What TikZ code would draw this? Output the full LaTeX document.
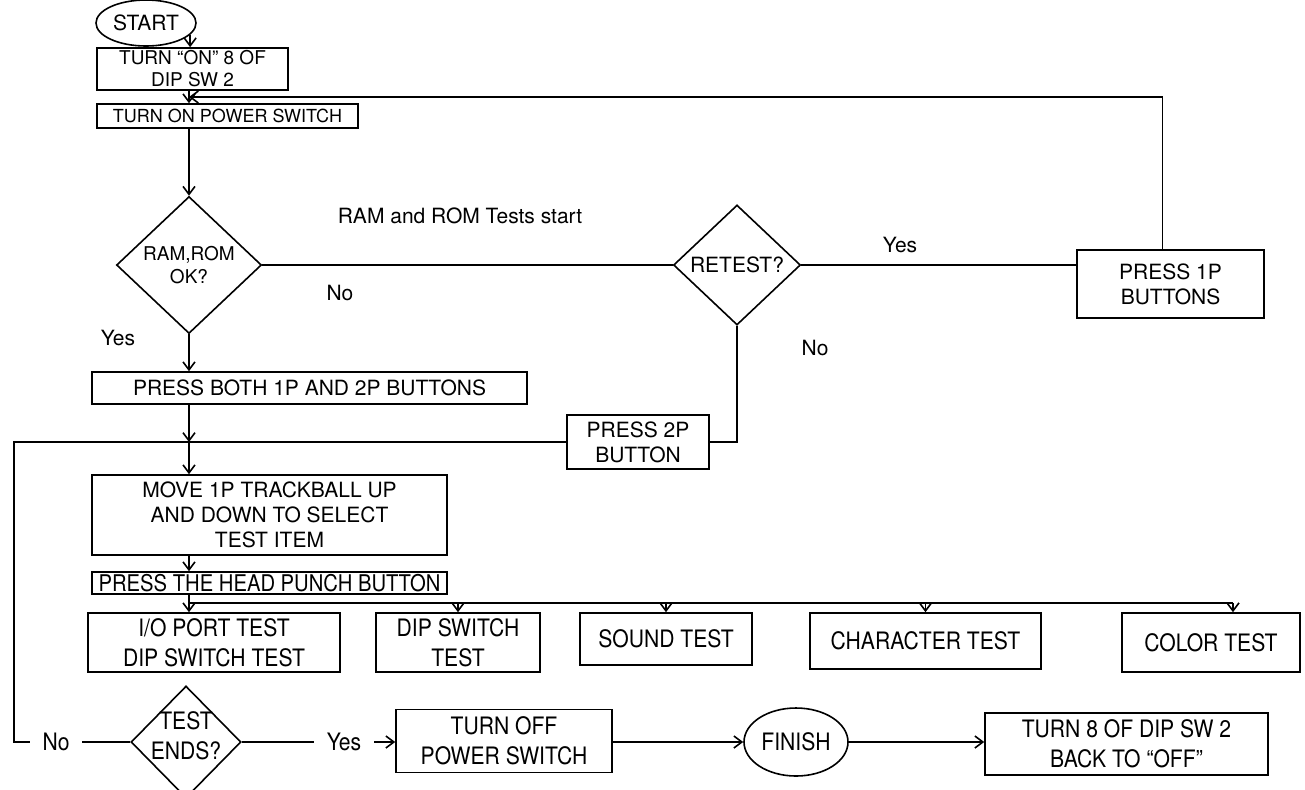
\documentclass[tikz,border=0pt]{standalone}
\usepackage{fontspec}
\setmainfont{TeX Gyre Heros}
\newfontfamily\condfont[FakeStretch=0.88]{TeX Gyre Heros}
\usetikzlibrary{shapes.geometric,arrows.meta}

\newcommand\upfont{\fontsize{10.5}{12.5}\selectfont}
\newcommand\lowfont{\condfont\fontsize{12}{15}\selectfont}

\tikzset{
  box/.style={draw, line width=0.8pt, inner sep=0pt, align=center, font=\upfont},
  lowbox/.style={box, font=\lowfont},
  decision/.style={draw, diamond, line width=0.8pt, inner sep=0pt, align=center, font=\upfont},
  terminal/.style={draw, ellipse, line width=0.8pt, inner sep=0pt, font=\upfont},
  lbl/.style={inner xsep=6pt, inner ysep=2pt, font=\upfont},
}

\begin{document}
\begin{tikzpicture}[x=0.5pt, y=-0.5pt, line width=0.8pt, >={Straight Barb[length=4pt,width=6pt]}]
    \useasboundingbox (0,0) rectangle (1305,789);

    % Start and power up
    \node[terminal, inner xsep=-4pt, minimum width=50pt, minimum height=23pt] (start) at (146,23) {START};
    \node[box, font=\fontsize{9.5}{11}\selectfont, minimum width=95.5pt, minimum height=21pt] (turnon) at (192.5,69) {TURN “ON” 8 OF\\DIP SW 2};
    \node[box, font=\fontsize{9}{11}\selectfont, minimum width=130.5pt, minimum height=12pt] (power) at (227.5,116) {TURN ON POWER SWITCH};

    % RAM / ROM check and retest loop
    \node[decision, font=\fontsize{9.5}{11.5}\selectfont, minimum width=72.5pt, minimum height=68.5pt] (ramrom) at (189,265) {RAM,ROM\\OK?};
    \node[lbl] (ramromtxt) at (460,216) {RAM and ROM Tests start};
    \node[decision, minimum width=63.5pt, minimum height=60pt] (retest) at (737,265) {RETEST?};
    \node[box, minimum width=93.5pt, minimum height=34pt] (press1p) at (1170.5,284) {PRESS 1P\\BUTTONS};
    \node[lbl] (yes1) at (118,338) {Yes};
    \node[lbl] (no1) at (340,293) {No};
    \node[lbl] (yes2) at (900,245) {Yes};
    \node[lbl] (no2) at (815,348) {No};

    % Test selection
    \node[box, minimum width=217.5pt, minimum height=16pt] (pressboth) at (309.5,388) {PRESS BOTH 1P AND 2P BUTTONS};
    \node[box, minimum width=71pt, minimum height=27pt] (press2p) at (638,442) {PRESS 2P\\BUTTON};
    \node[box, minimum width=177.5pt, minimum height=40pt] (move) at (269.5,515) {MOVE 1P TRACKBALL UP\\AND DOWN TO SELECT\\TEST ITEM};
    \node[box, font=\condfont\fontsize{11.5}{13}\selectfont, minimum width=177.5pt, minimum height=11pt] (head) at (269.5,583) {PRESS THE HEAD PUNCH BUTTON};

    % Test items
    \node[lowbox, minimum width=126pt, minimum height=29.5pt] (iop) at (214,642.5) {I/O PORT TEST\\DIP SWITCH TEST};
    \node[lowbox, minimum width=82pt, minimum height=29.5pt] (dipsw) at (458,642.5) {DIP SWITCH\\TEST};
    \node[lowbox, minimum width=86pt, minimum height=26pt] (sound) at (666,639) {SOUND TEST};
    \node[lowbox, minimum width=115.5pt, minimum height=28pt] (chartest) at (925.5,641) {CHARACTER TEST};
    \node[lowbox, minimum width=89pt, minimum height=29.5pt] (colortest) at (1211,642.5) {COLOR TEST};

    % End of test
    \node[decision, font=\lowfont, inner sep=-8pt, text depth=6pt, minimum width=55pt, minimum height=56pt] (ends) at (186,742) {TEST\\ENDS?};
    \node[lbl, font=\lowfont] (no3) at (56,742) {No};
    \node[lbl, font=\lowfont] (yes3) at (344,742) {Yes};
    \node[lowbox, minimum width=108pt, minimum height=31.5pt] (turnoff) at (504,741) {TURN OFF\\POWER SWITCH};
    \node[terminal, font=\lowfont, minimum width=52pt, minimum height=34pt] (finish) at (796,742) {FINISH};
    \node[lowbox, minimum width=141.5pt, minimum height=31pt] (turnback) at (1126.5,744) {TURN 8 OF DIP SW 2\\BACK TO “OFF”};

    \coordinate (loopin) at (189,97);
    \coordinate (j) at (ramrom.south |- press2p.west);
    \coordinate (bus) at (189,603);
    \coordinate (loopleft) at (14,442);

    % Main column
    \draw[->] (start.-15) -- (start.-15 |- turnon.north);
    \draw[->] (ramrom.north |- turnon.south) -- (ramrom.north |- power.north);
    \draw[->] (ramrom.north |- power.south) -- (ramrom.north);
    \draw[->] (ramrom.south) -- (ramrom.south |- pressboth.north);
    \draw[->] (j |- pressboth.south) -- (j);
    \draw[->] (j) -- (j |- move.north);
    \draw[->] (j |- move.south) -- (j |- head.north);
    \draw[->] (j |- head.south) -- (j |- iop.north);

    % Retest branches
    \draw (ramrom.east) -- (retest.west);
    \draw (retest.east) -- (retest.east -| press1p.west);
    \draw[->] ([xshift=-4pt]press1p.north) |- (loopin);
    \draw (retest.south) |- (press2p.east);
    \draw (press2p.west) -- (j);

    % Branches to the tests
    \draw (bus) -- ([xshift=11pt]bus -| colortest.north);
    \foreach \t in {dipsw, sound, chartest}
        \draw[->] (bus -| \t.north) -- (\t.north);
    \draw[->] ([xshift=11pt]bus -| colortest.north) -- ([xshift=11pt]colortest.north);

    % Test ends
    \draw (ends.west) -- (no3.east);
    \draw (no3.west) -| (loopleft) -- (j);
    \draw (ends.east) -- (yes3.west);
    \draw[->] (yes3.east) -- (turnoff.west |- yes3.east);
    \draw[->] (turnoff.east |- finish.west) -- (finish.west);
    \draw[->] (finish.east) -- (finish.east -| turnback.west);
\end{tikzpicture}
\end{document}
